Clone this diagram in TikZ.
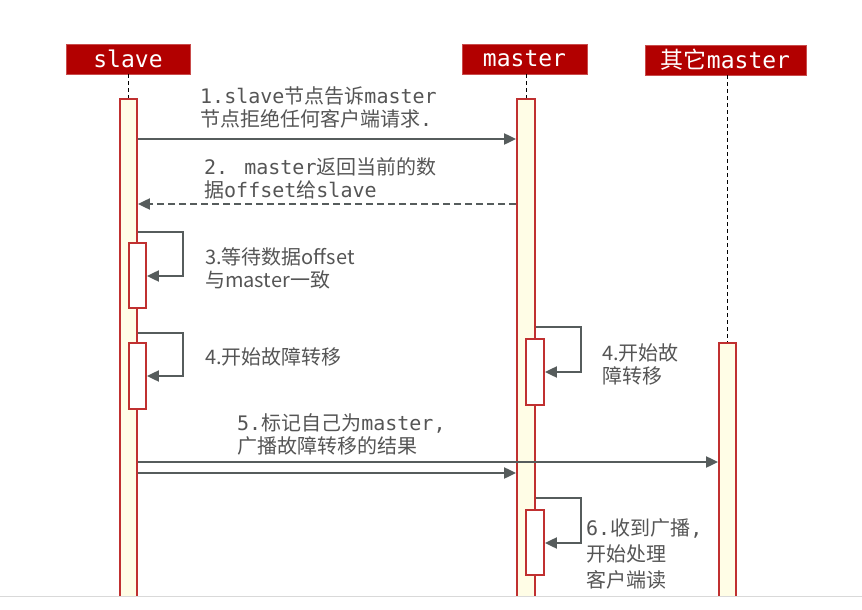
\documentclass[tikz,border=0pt]{standalone}
\usepackage{fontspec}
\setmainfont{Noto Sans CJK SC}
\newfontfamily\monof{DejaVu Sans Mono}
\usetikzlibrary{arrows.meta}
\definecolor{hdr}{HTML}{B20000}
\definecolor{barred}{HTML}{C03030}
\definecolor{barfill}{HTML}{FFFDE6}
\definecolor{arr}{HTML}{565C5C}
\definecolor{txt}{HTML}{555555}
\tikzset{
  hdrbox/.style={fill=hdr, draw=hdr!70!white, line width=0.6pt, text=white, minimum height=30pt, inner sep=0pt, font=\fontsize{23}{24}\selectfont},
  lifeline/.style={draw=black, line width=1pt, dash pattern=on 4pt off 3pt},
  actbar/.style={draw=barred, fill=barfill, line width=1.8pt, minimum width=17pt, inner sep=0pt},
  subbar/.style={draw=barred, fill=white, line width=1.8pt, minimum width=17pt, inner sep=0pt},
  msg/.style={draw=arr, line width=2pt, -{Triangle[length=12pt,width=11pt]}},
  dmsg/.style={msg, dash pattern=on 7pt off 4pt},
  lbl/.style={text=txt, align=left, inner sep=0pt, font=\fontsize{20}{23}\selectfont},
}
\begin{document}
\begin{tikzpicture}[x=1pt,y=-1pt]
\useasboundingbox (0,0) rectangle (862,610);
\fill[white] (0,0) rectangle (862,610);
\begin{scope}
\clip (0,0) rectangle (862,596);
% headers
\node[hdrbox, minimum width=124pt] (hs) at (128,59) {\monof slave};
\node[hdrbox, minimum width=125pt] (hm) at (524.5,59) {\monof master};
\node[hdrbox, minimum width=161pt] (ho) at (725.5,60) {其它{\monof master}};
% activation bars
\node[actbar, minimum height=521pt] (sb) at (128.5,359.5) {};
\node[actbar, minimum height=521pt, minimum width=18pt] (mb) at (526,359.5) {};
\node[actbar, minimum height=277pt] (ob) at (727.5,481.5) {};
% lifelines
\draw[lifeline] (hs.south -| sb.north) -- (sb.north);
\draw[lifeline] (hm.south -| mb.north) -- (mb.north);
\draw[lifeline] (ho.south -| ob.north) -- (ob.north);
% sub activation bars
\node[subbar, minimum height=65pt] (s3) at (137.5,275.5) {};
\node[subbar, minimum height=66pt] (s4) at (137.5,376) {};
\node[subbar, minimum height=66pt, minimum width=18pt] (m4) at (535,372) {};
\node[subbar, minimum height=65pt, minimum width=18pt] (m6) at (535,542.5) {};
% messages
\draw[msg] (sb.east |- 0,139) -- (mb.west |- 0,139);
\node[lbl, anchor=west] (l1) at (200,107) {{\monof 1.slave}节点告诉{\monof master}\\节点拒绝任何客户端请求{\monof .}};
\draw[dmsg] (mb.west |- 0,204) -- (sb.east |- 0,204);
\node[lbl, anchor=west] (l2) at (204,178) {{\monof 2. master}返回当前的数\\据{\monof offset}给{\monof slave}};
\draw[msg] (sb.east |- 0,232) -- ++(45,0) |- (s3.east |- 0,276);
\node[lbl, anchor=west] (l3) at (205,268) {3.等待数据offset\\与master一致};
\draw[msg] (sb.east |- 0,333) -- ++(45,0) |- (s4.east |- 0,376);
\node[lbl, anchor=west] (l4) at (205,357) {4.开始故障转移};
\draw[msg] (mb.east |- 0,327) -- ++(45,0) |- (m4.east |- 0,372);
\node[lbl, anchor=west] (l4m) at (602,364) {4.开始故\\障转移};
\draw[msg] (sb.east |- 0,462) -- (ob.west |- 0,462);
\draw[msg] (sb.east |- 0,473) -- (mb.west |- 0,473);
\node[lbl, anchor=west] (l5) at (237,434) {{\monof 5.}标记自己为{\monof master,}\\广播故障转移的结果};
\draw[msg] (mb.east |- 0,498) -- ++(45,0) |- (m6.east |- 0,543);
\node[lbl, anchor=north west, font=\fontsize{20}{26}\selectfont] (l6) at (586,518) {{\monof 6.}收到广播{\monof ,}\\开始处理\\客户端读\\写请求};
\end{scope}
\draw[draw=black!15, line width=1.2pt] (0,596.5) -- (862,596.5);
\end{tikzpicture}
\end{document}
